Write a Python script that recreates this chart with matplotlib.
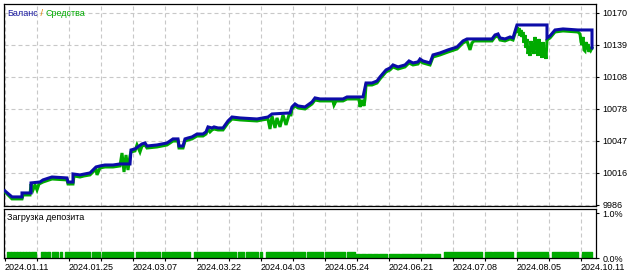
import matplotlib
matplotlib.use("Agg")
import matplotlib.pyplot as plt

plt.rcParams['font.family'] = ['Liberation Sans', 'DejaVu Sans']
plt.rcParams['font.size'] = 6.5

# deal index along the x axis
bal_x = [5, 12, 22, 22, 31, 31, 40, 43, 49, 52, 67, 68, 73, 73, 80, 90, 96, 100, 105, 113,
         120, 130, 131, 135, 142, 145, 147, 157, 167, 170, 173, 178, 179, 183, 185, 188, 192,
         197, 203, 206, 208, 212, 214, 218, 223, 228, 232, 240, 257, 268, 272, 290, 292, 295,
         298, 305, 312, 315, 320, 343, 347, 363, 366, 372, 377, 380, 386, 390, 393, 398, 405,
         409, 413, 418, 420, 423, 430, 433, 440, 448, 457, 463, 467, 492, 495, 498, 500, 505,
         510, 513, 517, 547, 547, 550, 555, 563, 578, 592, 592]
balance = [9999.0, 9993.3, 9993.3, 9997.1, 9997.1, 10006.7, 10007.6, 10009.6, 10011.5, 10012.4,
           10011.5, 10007.6, 10007.6, 10015.3, 10014.4, 10016.3, 10022.0, 10023.0, 10023.9, 10023.9,
           10024.9, 10024.9, 10038.3, 10039.3, 10044.1, 10045.0, 10042.1, 10043.1, 10045.0, 10046.9,
           10048.9, 10048.9, 10042.1, 10042.1, 10048.9, 10049.8, 10050.8, 10053.6, 10053.6, 10055.6,
           10060.4, 10059.4, 10060.4, 10059.4, 10059.4, 10066.1, 10069.9, 10069.0, 10068.0, 10069.9,
           10072.8, 10073.8, 10079.5, 10082.4, 10080.5, 10079.5, 10084.3, 10088.2, 10087.2, 10087.2,
           10089.1, 10089.1, 10102.5, 10102.5, 10104.4, 10108.3, 10115.0, 10116.9, 10119.8, 10117.9,
           10119.8, 10123.6, 10121.7, 10122.7, 10125.5, 10123.6, 10121.7, 10129.4, 10131.3, 10134.2,
           10137.0, 10142.8, 10144.7, 10144.7, 10148.5, 10149.5, 10145.7, 10144.7, 10146.6, 10145.7,
           10158.1, 10158.1, 10145.7, 10147.6, 10153.3, 10154.3, 10153.3, 10153.3, 10136.1]

eq_x = [5, 12, 22, 23, 30, 31, 33, 35, 37, 39, 43, 49, 52, 67, 68, 73, 74, 80, 84, 90, 96, 97,
        100, 105, 113, 120, 122, 124, 126, 128, 130, 131, 135, 137, 140, 142, 145, 147, 157, 167,
        170, 173, 178, 179, 183, 185, 188, 192, 197, 203, 206, 208, 210, 212, 214, 218, 223, 228,
        232, 240, 257, 262, 268, 270, 272, 275, 277, 280, 283, 286, 289, 291, 292, 295, 298, 305,
        312, 315, 320, 333, 334, 336, 343, 347, 359, 360, 362, 364, 365, 366, 372, 377, 380, 386,
        390, 393, 398, 405, 409, 413, 418, 420, 423, 430, 433, 440, 448, 457, 463, 467, 470, 472,
        474, 492, 495, 498, 500, 505, 510, 513,
        517, 518, 519, 520, 521, 522, 523, 524, 525, 526,
        527, 528, 529, 530, 531, 532, 533, 534, 535, 536,
        537, 538, 539, 540, 541, 542, 543, 544, 545, 546,
        547, 550, 555, 563, 578,
        580, 581, 582, 583, 584, 585, 586, 587, 588, 589, 590, 591, 592]
equity = [9998.1, 9991.4, 9991.4, 9995.2, 9995.2, 10005.7, 10000.0, 10004.8, 10000.0, 10005.7,
          10007.6, 10009.6, 10010.5, 10009.6, 10005.7, 10005.7, 10013.4, 10012.4, 10013.4, 10014.4,
          10020.1, 10014.4, 10021.1, 10022.0, 10022.0, 10023.0, 10035.4, 10017.2, 10033.5, 10019.1,
          10032.6, 10036.4, 10037.4, 10043.1, 10036.4, 10042.1, 10043.1, 10040.2, 10041.2, 10043.1,
          10045.0, 10046.9, 10046.9, 10040.2, 10040.2, 10046.9, 10047.9, 10048.9, 10051.7, 10051.7,
          10053.6, 10058.4, 10055.6, 10057.5, 10058.4, 10057.5, 10057.5, 10064.2, 10068.0, 10067.1,
          10066.1, 10067.1, 10068.0, 10058.4, 10070.9, 10059.4, 10069.0, 10060.4, 10071.9, 10062.3,
          10071.9, 10071.9, 10077.6, 10080.5, 10078.6, 10077.6, 10082.4, 10086.2, 10085.3, 10085.3,
          10081.4, 10085.3, 10085.3, 10087.2, 10087.2, 10079.5, 10086.2, 10080.5, 10087.2, 10100.6,
          10100.6, 10102.5, 10106.4, 10113.1, 10115.0, 10117.9, 10115.9, 10117.9, 10121.7, 10119.8,
          10120.7, 10123.6, 10121.7, 10119.8, 10127.4, 10129.4, 10132.2, 10135.1, 10140.9, 10142.8,
          10134.2, 10140.9, 10142.8, 10142.8, 10146.6, 10147.6, 10143.7, 10142.8, 10144.7, 10143.7,
          10156.2, 10150.4, 10155.2, 10147.6, 10153.3, 10146.6, 10151.4, 10140.9, 10148.5, 10136.1,
          10144.7, 10130.3, 10137.0, 10128.4, 10142.8, 10133.2, 10139.9, 10130.3, 10146.6, 10135.1,
          10141.8, 10128.4, 10144.7, 10131.3, 10138.0, 10126.5, 10141.8, 10128.4, 10135.1, 10125.5,
          10143.7, 10145.7, 10151.4, 10152.4, 10151.4,
          10149.5, 10141.8, 10138.9, 10146.6, 10134.2, 10133.2, 10141.8, 10135.1, 10139.9, 10132.2,
          10137.0, 10134.2, 10136.1]

y_ticks = [9985.6, 10016.3, 10047.0, 10077.7, 10108.3, 10139.0, 10169.7]
y_labels = ["9986", "10016", "10047", "10078", "10108", "10139", "10170"]

date_pos = [5, 69, 133, 197, 261, 325, 389, 453, 517, 581]
date_labels = ["2024.01.11", "2024.01.25", "2024.03.07", "2024.03.22", "2024.04.03",
               "2024.05.24", "2024.06.21", "2024.07.08", "2024.08.05", "2024.10.11"]
grid_pos = [5, 37, 69, 101, 133, 165, 197, 229, 261, 293, 325, 357, 389, 421, 453, 485,
            517, 549, 581]

# deposit load, % (start deal, end deal)
load_spans = [(7, 9), (10, 12), (13, 15), (16, 18), (19, 21), (22, 24), (25, 27), (28, 30),
              (31, 36), (41, 46), (47, 50), (52, 58), (60, 62), (65, 90), (92, 100), (102, 133),
              (136, 146), (147, 160), (162, 170), (171, 190), (194, 236), (238, 244), (246, 258),
              (260, 262), (266, 305), (307, 323), (325, 345), (347, 355), (444, 482), (485, 492),
              (493, 513), (517, 548), (552, 567), (568, 578), (582, 592)]
load_value = 0.13
thin_spans = [(356, 360), (361, 366), (367, 372), (373, 378), (379, 387), (389, 400),
              (401, 412), (413, 425), (426, 433), (434, 440)]
thin_value = 0.10

GRID = dict(color="#c8c8c8", lw=0.8, ls=(0, (3.6, 2.7)))

fig = plt.figure(figsize=(6.4, 2.75), dpi=100)
ax = fig.add_axes([4 / 640, 69 / 275, 592 / 640, 202 / 275])
ax2 = fig.add_axes([4 / 640, 17 / 275, 592 / 640, 49 / 275])

ax.plot(eq_x, equity, color="#00aa00", lw=2.2, solid_joinstyle="miter", zorder=3)
ax.plot(bal_x, balance, color="#0c0ca8", lw=2.2, solid_joinstyle="miter", zorder=4)

ax.set_xlim(4, 596)
ax.set_ylim(9984.6, 10178.2)
ax.set_xticks(grid_pos)
ax.tick_params(axis="x", length=0, labelbottom=False)
ax.yaxis.tick_right()
ax.set_yticks(y_ticks)
ax.set_yticklabels(y_labels)
ax.tick_params(axis="y", direction="out", length=2.5, width=0.8, pad=2, labelsize=6.5)
ax.grid(True, **GRID)
ax.set_axisbelow(True)

ax2.broken_barh([(a, b - a) for a, b in load_spans], (0, load_value), color="#00aa00")
ax2.broken_barh([(a, b - a) for a, b in thin_spans], (0, thin_value), color="#00aa00")
ax2.set_xlim(4, 596)
ax2.set_ylim(0, 1.09)
ax2.set_xticks(grid_pos)
ax2.set_xticklabels([date_labels[date_pos.index(p)] if p in date_pos else "" for p in grid_pos])
for lbl in ax2.get_xticklabels():
    lbl.set_ha("left")
ax2.tick_params(axis="x", direction="out", length=2, width=0.8, pad=1.5, labelsize=6.5)
ax2.yaxis.tick_right()
ax2.set_yticks([0, 1.0])
ax2.set_yticklabels(["0.0%", "1.0%"])
ax2.tick_params(axis="y", direction="out", length=2.5, width=0.8, pad=2, labelsize=6.5)
ax2.grid(True, axis="x", **GRID)
ax2.set_axisbelow(True)

for a in (ax, ax2):
    for s in a.spines.values():
        s.set_color("black")
        s.set_linewidth(0.9)

# legend text: "Баланс / Средства" in two colours
fig.canvas.draw()
r = fig.canvas.get_renderer()
t1 = fig.text(7 / 640, 1 - 13 / 275, "Баланс", color="#1a1aa0", va="center", fontsize=6.5)
x1 = t1.get_window_extent(r).x1
t2 = fig.text(x1 / 640, 1 - 13 / 275, " / ", color="#e08000", va="center", fontsize=6.5)
x2 = t2.get_window_extent(r).x1
fig.text(x2 / 640, 1 - 13 / 275, "Средства", color="#00aa00", va="center", fontsize=6.5)
fig.text(7 / 640, 1 - 217 / 275, "Загрузка депозита", color="black", va="center", fontsize=6.5)

fig.savefig("out.png", dpi=100)
